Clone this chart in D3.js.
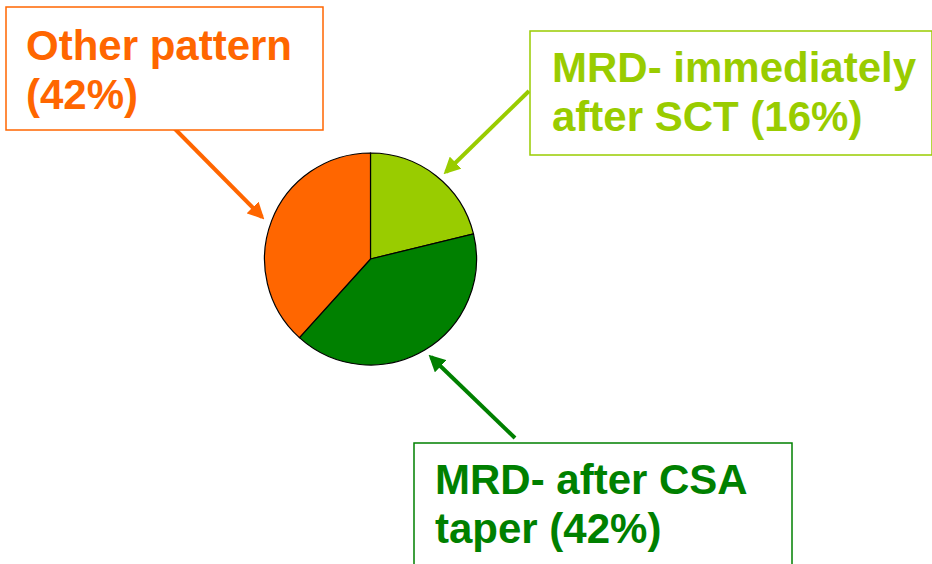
<!DOCTYPE html>
<html>
<head>
<meta charset="utf-8">
<script src="https://cdn.jsdelivr.net/npm/d3@7"></script>
<style>
  body { margin: 0; background: #fff; }
  svg { display: block; }
</style>
</head>
<body>
<div id="chart"></div>
<script>
// Slice data (shares, clockwise from 12 o'clock)
const categories = ["MRD- immediately after SCT", "MRD- after CSA taper", "Other pattern"];
const pieValues = [21.2, 40.5, 38.3];
const sliceColors = ["#99CC00", "#008000", "#FF6600"];

// Callout texts, one array of lines each
const labelLines = [
  ["MRD- immediately", "after SCT (16%)"],
  ["MRD- after CSA", "taper (42%)"],
  ["Other pattern", "(42%)"]
];

const width = 932;
const height = 564;
const center = { x: 370.5, y: 259 };
const radius = 106;

const svg = d3.select("#chart")
  .append("svg")
    .attr("width", width)
    .attr("height", height);

// arrow heads
const defs = svg.append("defs");
sliceColors.forEach(function(c, i) {
  defs.append("marker")
      .attr("id", "arrow" + i)
      .attr("viewBox", "0 0 10 10")
      .attr("refX", 8)
      .attr("refY", 5)
      .attr("markerWidth", 4.2)
      .attr("markerHeight", 4.2)
      .attr("orient", "auto")
    .append("path")
      .attr("d", "M0,0 L10,5 L0,10 z")
      .attr("fill", c);
});

// Pie
const pie = d3.pie().sort(null).startAngle(0).endAngle(2 * Math.PI);
const arc = d3.arc().innerRadius(0).outerRadius(radius);

svg.append("g")
    .attr("transform", `translate(${center.x},${center.y})`)
  .selectAll("path")
  .data(pie(pieValues))
  .join("path")
    .attr("d", arc)
    .attr("fill", (d, i) => sliceColors[i])
    .attr("stroke", "#000")
    .attr("stroke-width", 1.2);

// Callout boxes
const boxes = [
  { x: 530, y: 31, w: 402, h: 124, tx: 552, ty: 82 },
  { x: 414, y: 443, w: 378, h: 140, tx: 435, ty: 494 },
  { x: 6, y: 7, w: 317, h: 123, tx: 26, ty: 60 }
];

// arrows: tail and tip
const arrows = [
  [[529, 91], [446, 172]],
  [[515, 438], [431, 357]],
  [[174, 128], [262, 217]]
];

arrows.forEach(function(a, i) {
  svg.append("line")
      .attr("x1", a[0][0])
      .attr("y1", a[0][1])
      .attr("x2", a[1][0])
      .attr("y2", a[1][1])
      .attr("stroke", sliceColors[i])
      .attr("stroke-width", 4)
      .attr("marker-end", `url(#arrow${i})`);
});

boxes.forEach(function(b, i) {
  svg.append("rect")
      .attr("x", b.x)
      .attr("y", b.y)
      .attr("width", b.w)
      .attr("height", b.h)
      .attr("fill", "#fff")
      .attr("stroke", sliceColors[i])
      .attr("stroke-width", 1.5);

  svg.append("text")
      .attr("x", b.tx)
      .attr("y", b.ty)
      .attr("fill", sliceColors[i])
      .style("font-family", "'Liberation Sans', Arial, sans-serif")
      .style("font-weight", "bold")
      .style("font-size", "42px")
    .selectAll("tspan")
    .data(labelLines[i])
    .join("tspan")
      .attr("x", b.tx)
      .attr("dy", (d, j) => j === 0 ? 0 : 49)
      .text(d => d);
});
</script>
</body>
</html>
